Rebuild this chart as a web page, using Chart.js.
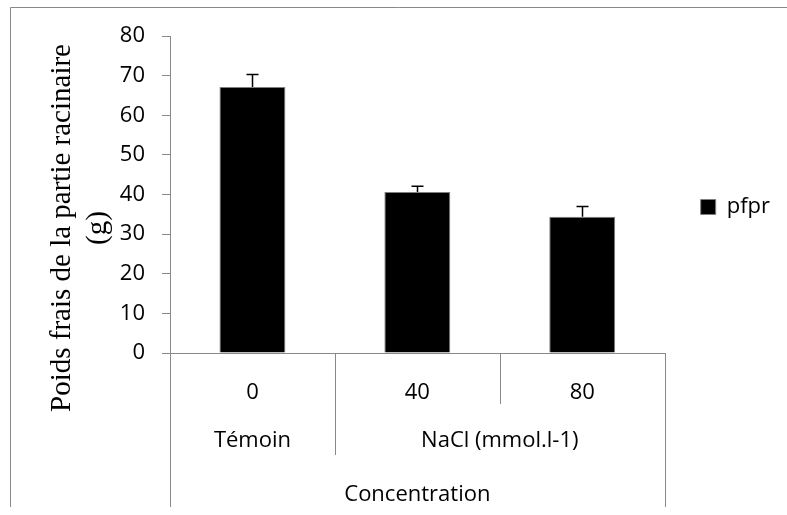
<!DOCTYPE html>
<html>
<head>
<meta charset="utf-8">
<script src="https://cdn.jsdelivr.net/npm/chart.js@4.4.0/dist/chart.umd.min.js"></script>
<style>
  html, body { margin: 0; padding: 0; background: #fff; }
  #wrap { width: 787px; height: 515px; }
</style>
</head>
<body>
<div id="wrap"><canvas id="valuesChart" width="787" height="515"></canvas></div>
<script>
// data
const concentrations = ['0', '40', '80']
const groupLabels = ['Témoin', 'NaCl (mmol.l-1)']
const groupSpans = [1, 2]
const axisTitle = 'Concentration'
const seriesName = 'pfpr'
const pfpr = [67.1, 40.6, 34.4]
const pfprErr = [3.2, 1.5, 2.6]
const yTicks = [0, 10, 20, 30, 40, 50, 60, 70, 80]
const yTitle = ['Poids frais de la partie racinaire', '(g)']

const gray = '#898989'
Chart.defaults.font.family = "'Open Sans', sans-serif"
Chart.defaults.font.size = 22
Chart.defaults.color = '#000'

// frame, error bars, grouped category axis and y title (Excel style)
const excelBits = {
    id: 'excelBits',
    beforeDraw(chart) {
        const ctx = chart.ctx
        ctx.save()
        ctx.strokeStyle = gray
        ctx.lineWidth = 1
        ctx.beginPath()
        ctx.moveTo(10.5, 507)
        ctx.lineTo(10.5, 7.5)
        ctx.lineTo(787, 7.5)
        ctx.stroke()
        ctx.restore()
    },
    afterDatasetsDraw(chart) {
        const ctx = chart.ctx
        const xs = chart.scales.x, ys = chart.scales.y
        ctx.save()
        ctx.strokeStyle = '#000'
        ctx.lineWidth = 1.5
        pfpr.forEach((v, i) => {
            const px = Math.round(xs.getPixelForValue(i)) + 0.5
            const top = ys.getPixelForValue(v)
            const err = ys.getPixelForValue(v + pfprErr[i])
            ctx.beginPath()
            ctx.moveTo(px, top)
            ctx.lineTo(px, err)
            ctx.moveTo(px - 6, err)
            ctx.lineTo(px + 6, err)
            ctx.stroke()
        })
        ctx.restore()
    },
    afterDraw(chart) {
        const ctx = chart.ctx
        const xs = chart.scales.x
        const base = xs.top
        const n = concentrations.length
        const edges = [xs.left]
        for (let i = 0; i < n - 1; i++) {
            edges.push((xs.getPixelForValue(i) + xs.getPixelForValue(i + 1)) / 2)
        }
        edges.push(xs.right)

        // which edges start a group
        const groupStarts = [0]
        groupSpans.forEach(s => groupStarts.push(groupStarts[groupStarts.length - 1] + s))

        ctx.save()
        ctx.strokeStyle = gray
        ctx.lineWidth = 1
        edges.forEach((ex, i) => {
            let depth = 51
            if (i === 0 || i === n) depth = 154
            else if (groupStarts.indexOf(i) != -1) depth = 102
            const px = Math.round(ex) + 0.5
            ctx.beginPath()
            ctx.moveTo(px, base)
            ctx.lineTo(px, base + depth)
            ctx.stroke()
        })

        ctx.fillStyle = '#000'
        ctx.font = "22px 'Open Sans'"
        ctx.textAlign = 'center'
        ctx.textBaseline = 'middle'
        groupLabels.forEach((g, i) => {
            const cx = (edges[groupStarts[i]] + edges[groupStarts[i + 1]]) / 2
            ctx.fillText(g, cx, 441)
        })
        ctx.fillText(axisTitle, (xs.left + xs.right) / 2, 495)

        ctx.font = "29px 'Liberation Serif', 'Times New Roman', serif"
        yTitle.forEach((line, i) => {
            ctx.save()
            ctx.translate(62 + i * 36, 228)
            ctx.rotate(-Math.PI / 2)
            ctx.fillText(line, 0, 0)
            ctx.restore()
        })
        ctx.restore()
    }
}

const ctx = document.getElementById('valuesChart')
new Chart(ctx, {
    type: 'bar',
    data: {
        labels: concentrations,
        datasets: [{
            label: seriesName,
            data: pfpr,
            backgroundColor: '#000',
            borderColor: '#7f7f7f',
            borderWidth: 1,
            categoryPercentage: 1,
            barPercentage: 0.4
        }]
    },
    options: {
        responsive: false,
        animation: false,
        layout: { padding: { top: 36, bottom: 102, left: 0, right: 7 } },
        plugins: {
            tooltip: { enabled: false },
            legend: {
                position: 'right',
                fullSize: false,
                // blank title only nudges the entry down a little
                title: { display: true, text: ' ', font: { size: 10 }, padding: 6.5 },
                labels: { boxWidth: 15, boxHeight: 15, padding: 36, font: { size: 22 }, color: '#000' }
            }
        },
        scales: {
            x: {
                grid: { display: false },
                border: { display: true, color: gray, width: 1 },
                ticks: { padding: 19, color: '#000', font: { size: 22 } },
                afterFit: s => { s.height = 60 }
            },
            y: {
                min: 0,
                max: 80,
                afterBuildTicks: s => { s.ticks = yTicks.map(v => ({ value: v })) },
                grid: { drawOnChartArea: false, drawTicks: true, tickLength: 8, color: gray },
                border: { display: true, color: gray, width: 1 },
                ticks: { padding: 17, color: '#000', font: { size: 22 } },
                afterFit: s => { s.width = 170 }
            }
        }
    },
    plugins: [excelBits]
})
</script>
</body>
</html>
